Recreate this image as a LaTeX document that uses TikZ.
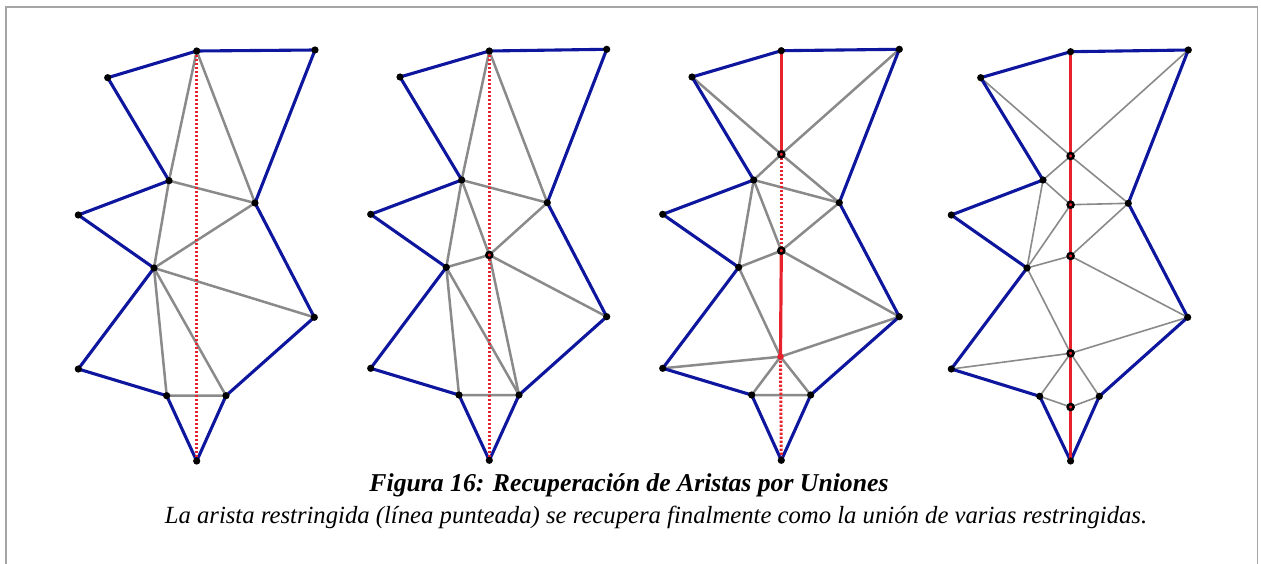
\documentclass[tikz,border=0pt]{standalone}
\usepackage{fontspec}
\setmainfont{Liberation Serif}
\definecolor{bndblue}{RGB}{14,22,158}
\definecolor{trigray}{RGB}{138,138,138}
\definecolor{conred}{RGB}{232,34,44}
\definecolor{framegray}{RGB}{165,165,165}
\tikzset{
  frameline/.style={draw=framegray,line width=1.6pt},
  bnd/.style={draw=bndblue,line width=3.1pt,line join=round,line cap=round},
  tri/.style={draw=trigray,line width=2.5pt},
  trithin/.style={draw=trigray,line width=1.6pt},
  condot/.style={draw=conred,line width=3pt,dash pattern=on 2.2pt off 1.8pt},
  consol/.style={draw=conred,line width=3.2pt},
  pt/.style={circle,fill=black,inner sep=0pt,minimum size=7.2pt},
  newpt/.style={circle,fill=conred,draw=black,line width=2.5pt,inner sep=0pt,minimum size=6pt},
  redpt/.style={circle,fill=conred,inner sep=0pt,minimum size=6.5pt},
  captitle/.style={font=\fontsize{25.7}{30}\selectfont\bfseries\itshape,anchor=base,inner sep=0pt},
  capsub/.style={font=\fontsize{24.7}{30}\selectfont\itshape,anchor=base,inner sep=0pt}
}
\begin{document}
\begin{tikzpicture}[x=1pt,y=-1pt]
\useasboundingbox (0,0) rectangle (1261,564);
\fill[white] (0,0) rectangle (1261,564);
\draw[frameline] (6,564) -- (6,7) -- (1257.5,7) -- (1257.5,564);

% ---------------- Panel 1 ----------------
\coordinate (aA) at (196.7,51);
\coordinate (aB) at (315,50);
\coordinate (aC) at (107.7,77.7);
\coordinate (aD) at (169,180.7);
\coordinate (aE) at (255,203);
\coordinate (aF) at (78.3,215);
\coordinate (aG) at (154,268);
\coordinate (aH) at (314.3,317.3);
\coordinate (aI) at (78.3,369);
\coordinate (aJ) at (166.7,395.7);
\coordinate (aK) at (226,395.7);
\coordinate (aL) at (196.7,461);
\draw[tri] (aA)--(aD) (aA)--(aE) (aD)--(aE) (aD)--(aG) (aG)--(aE) (aG)--(aH) (aG)--(aJ) (aG)--(aK) (aJ)--(aK);
\draw[bnd] (aA)--(aB)--(aE)--(aH)--(aK)--(aL)--(aJ)--(aI)--(aG)--(aF)--(aD)--(aC)--cycle;
\draw[condot] (aA)--(aL);
\foreach \p in {A,B,C,D,E,F,G,H,I,J,K,L} \node[pt] (adot\p) at (a\p) {};

% ---------------- Panel 2 ----------------
\coordinate (bA) at (489.3,51);
\coordinate (bB) at (606.7,49.3);
\coordinate (bC) at (400,77);
\coordinate (bD) at (461.7,180);
\coordinate (bE) at (547.3,202.7);
\coordinate (bF) at (370.7,214.3);
\coordinate (bM) at (489.3,255);
\coordinate (bG) at (446.3,267.3);
\coordinate (bH) at (606.7,316.7);
\coordinate (bI) at (370.7,368.3);
\coordinate (bJ) at (459,395);
\coordinate (bK) at (519,395);
\coordinate (bL) at (489.3,460.3);
\draw[tri] (bA)--(bD) (bA)--(bE) (bD)--(bE) (bD)--(bM) (bD)--(bG) (bM)--(bE) (bM)--(bG) (bM)--(bH) (bM)--(bK) (bG)--(bJ) (bG)--(bK) (bJ)--(bK);
\draw[bnd] (bA)--(bB)--(bE)--(bH)--(bK)--(bL)--(bJ)--(bI)--(bG)--(bF)--(bD)--(bC)--cycle;
\draw[condot] (bA)--(bL);
\foreach \p in {A,B,C,D,E,F,G,H,I,J,K,L} \node[pt] (bdot\p) at (b\p) {};
\node[newpt] (bdotM) at (bM) {};

% ---------------- Panel 3 ----------------
\coordinate (cA) at (781.3,50.7);
\coordinate (cB) at (899.3,49.3);
\coordinate (cC) at (692,77);
\coordinate (cN) at (781.3,154.3);
\coordinate (cD) at (753.7,180);
\coordinate (cE) at (839.3,202.7);
\coordinate (cF) at (662.7,214.3);
\coordinate (cM) at (781.3,250.7);
\coordinate (cG) at (738.7,267.3);
\coordinate (cH) at (899.3,316.7);
\coordinate (cP) at (780.5,356.7);
\coordinate (cI) at (662.7,368.3);
\coordinate (cJ) at (751.7,395);
\coordinate (cK) at (810.7,395);
\coordinate (cL) at (781.3,460.3);
\draw[tri] (cC)--(cN) (cN)--(cB) (cN)--(cD) (cN)--(cE) (cD)--(cE) (cD)--(cG) (cD)--(cM) (cM)--(cE) (cM)--(cG) (cM)--(cH) (cG)--(cP) (cI)--(cP) (cP)--(cH) (cP)--(cJ) (cP)--(cK) (cJ)--(cK);
\draw[bnd] (cA)--(cB)--(cE)--(cH)--(cK)--(cL)--(cJ)--(cI)--(cG)--(cF)--(cD)--(cC)--cycle;
\draw[consol] (cA)--(cN);
\draw[condot] (cN)--(cM);
\draw[consol] (cM)--(cP);
\draw[condot] (cP)--(cL);
\foreach \p in {A,B,C,D,E,F,G,H,I,J,K,L} \node[pt] (cdot\p) at (c\p) {};
\node[newpt] (cdotN) at (cN) {};
\node[newpt] (cdotM) at (cM) {};
\node[redpt] (cdotP) at (cP) {};

% ---------------- Panel 4 ----------------
\coordinate (dA) at (1070.6,51.7);
\coordinate (dB) at (1188.3,50);
\coordinate (dC) at (980.7,77.7);
\coordinate (dP) at (1070.6,156);
\coordinate (dD) at (1043,180);
\coordinate (dQ) at (1070.6,204.7);
\coordinate (dE) at (1128.3,203.3);
\coordinate (dF) at (951.3,215);
\coordinate (dR) at (1070.6,256);
\coordinate (dG) at (1027,268);
\coordinate (dH) at (1187.7,317.3);
\coordinate (dS) at (1070.6,353.3);
\coordinate (dI) at (951.3,369);
\coordinate (dJ) at (1039.7,396.3);
\coordinate (dK) at (1099.3,396.3);
\coordinate (dT) at (1070.6,407);
\coordinate (dL) at (1070.6,461);
\draw[trithin] (dC)--(dP) (dP)--(dB) (dP)--(dD) (dP)--(dE) (dD)--(dQ) (dD)--(dG) (dQ)--(dE) (dQ)--(dG) (dG)--(dR) (dR)--(dE) (dR)--(dH) (dG)--(dS) (dI)--(dS) (dS)--(dH) (dS)--(dJ) (dS)--(dK) (dJ)--(dT) (dT)--(dK);
\draw[bnd] (dA)--(dB)--(dE)--(dH)--(dK)--(dL)--(dJ)--(dI)--(dG)--(dF)--(dD)--(dC)--cycle;
\draw[consol] (dA)--(dL);
\foreach \p in {A,B,C,D,E,F,G,H,I,J,K,L} \node[pt] (ddot\p) at (d\p) {};
\foreach \p in {P,Q,R,S,T} \node[newpt] (ddot\p) at (d\p) {};

% ---------------- Caption ----------------
\node[captitle] (title) at (629,491) {Figura 16: Recuperación de Aristas por Uniones};
\node[capsub] (subtitle) at (656,523) {La arista restringida (línea punteada) se recupera finalmente como la unión de varias restringidas.};
\end{tikzpicture}
\end{document}
